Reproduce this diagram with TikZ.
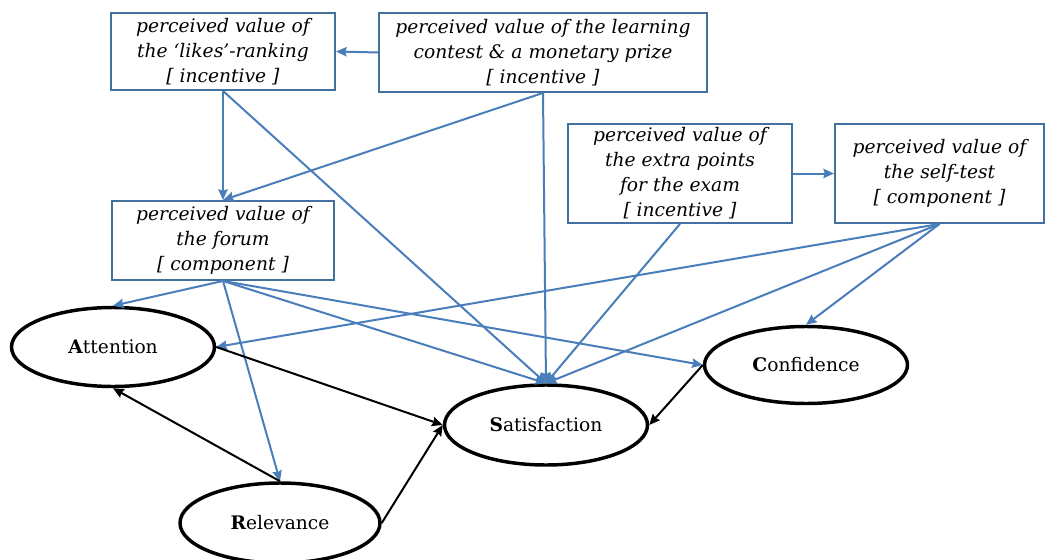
\documentclass[tikz,border=0pt]{standalone}
\usepackage{fontspec}
\setmainfont{DejaVu Serif}
\usetikzlibrary{arrows.meta,shapes.geometric}
\definecolor{boxblue}{RGB}{65,113,156}
\definecolor{lineblue}{RGB}{74,126,187}
\begin{document}
\begin{tikzpicture}[x=0.75pt,y=-0.75pt,
  box/.style={draw=boxblue,line width=1.4pt,rectangle,inner sep=0pt,align=center,
    font=\itshape\fontsize{14}{18.75}\selectfont},
  oval/.style={draw=black,line width=2.6pt,ellipse,inner sep=0pt,
    font=\fontsize{14}{16}\selectfont},
  blue/.style={draw=lineblue,line width=1.5pt,-{Stealth[length=8pt,width=7pt,inset=1pt]}},
  blk/.style={draw=black,line width=1.5pt,-{Stealth[length=8pt,width=7pt,inset=1pt]}}]
\useasboundingbox (0,0) rectangle (1046,560);
\fill[white] (0,0) rectangle (1046,560);
\node[box,minimum width=168pt,minimum height=57.75pt] (likes) at (223,51.5)
  {perceived value of\\the ‘likes’-ranking\\{[} incentive ]};
\node[box,minimum width=246pt,minimum height=59.25pt] (contest) at (543,52.5)
  {perceived value of the learning\\contest \& a monetary prize\\{[} incentive ]};
\node[box,minimum width=166.5pt,minimum height=59.25pt] (forum) at (223,240.5)
  {perceived value of\\the forum\\{[} component ]};
\node[box,minimum width=168pt,minimum height=74.25pt] (extra) at (680,173.5)
  {perceived value of\\the extra points\\for the exam\\{[} incentive ]};
\node[box,minimum width=156.75pt,minimum height=74.25pt] (self) at (939.5,173.5)
  {perceived value of\\the self-test\\{[} component ]};
\node[oval,minimum width=152.25pt,minimum height=59.25pt] (att) at (113,347) {\textbf{A}ttention};
\node[oval,minimum width=150pt,minimum height=60pt] (rel) at (280,523) {\textbf{R}elevance};
\node[oval,minimum width=152.25pt,minimum height=60pt] (sat) at (546,425) {\textbf{S}atisfaction};
\node[oval,minimum width=152.25pt,minimum height=57.75pt] (conf) at (806,365) {\textbf{C}onfidence};
% blue connectors
\draw[blue] (contest.west) -- (likes.east);
\draw[blue] (likes.south) -- (forum.north);
\draw[blue] (contest.south) -- (forum.north);
\draw[blue] (likes.south) -- (sat.north);
\draw[blue] (contest.south) -- (sat.north);
\draw[blue] (extra.south) -- (sat.north);
\draw[blue] (extra.east) -- (self.west);
\draw[blue] (self.south) -- (att.east);
\draw[blue] (self.south) -- (sat.north);
\draw[blue] (self.south) -- (conf.north);
\draw[blue] (forum.south) -- (att.north);
\draw[blue] (forum.south) -- (rel.north);
\draw[blue] (forum.south) -- (sat.north);
\draw[blue] (forum.south) -- (conf.west);
% black connectors
\draw[blk] (att.east) -- (sat.west);
\draw[blk] (rel.north) -- (att.south);
\draw[blk] (rel.east) -- (sat.west);
\draw[blk] (conf.west) -- (sat.east);
\end{tikzpicture}
\end{document}
